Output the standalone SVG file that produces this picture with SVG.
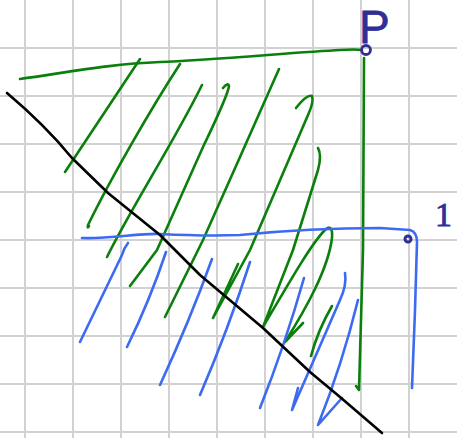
<svg xmlns="http://www.w3.org/2000/svg" width="457" height="438" viewBox="0 0 457 438">
<style>
.grid line{stroke:#d2d2d2;stroke-width:2}
.s{fill:none;stroke-width:2.6;stroke-linecap:round;stroke-linejoin:round}
.g{stroke:#0b7f0b}
.b{stroke:#3d6af2}
.k{stroke:#000}
.lbl{fill:#2f2f96;stroke:#2f2f96;stroke-width:0.8}
</style>
<rect width="457" height="438" fill="#fff"/>
<g id="grid" class="grid">
<line x1="25" y1="0" x2="25" y2="438"/><line x1="73" y1="0" x2="73" y2="438"/><line x1="121" y1="0" x2="121" y2="438"/><line x1="169" y1="0" x2="169" y2="438"/><line x1="217" y1="0" x2="217" y2="438"/><line x1="265" y1="0" x2="265" y2="438"/><line x1="313" y1="0" x2="313" y2="438"/><line x1="361" y1="0" x2="361" y2="438"/><line x1="409" y1="0" x2="409" y2="438"/>
<line x1="0" y1="48" x2="457" y2="48"/><line x1="0" y1="96" x2="457" y2="96"/><line x1="0" y1="144" x2="457" y2="144"/><line x1="0" y1="192" x2="457" y2="192"/><line x1="0" y1="240" x2="457" y2="240"/><line x1="0" y1="288" x2="457" y2="288"/><line x1="0" y1="336" x2="457" y2="336"/><line x1="0" y1="384" x2="457" y2="384"/><line x1="0" y1="432" x2="457" y2="432"/>
</g>
<g id="green-region" class="s g">
<path d="M20,79 C70,72 110,64 160,62 S300,52 340,50 Q355,49 362,50"/>
<path d="M140,59 Q105,112 65,172"/>
<path d="M180,64 C150,110 110,180 88,225 Q87,229 89,226"/>
<path d="M202,85 C175,140 130,210 107,257"/>
<path d="M223,88 Q228,82 229,86 Q228,95 203,147 L157,250 L130,286"/>
<path d="M279,69 L240,157 L203,240 L165,317"/>
<path d="M296,108 Q307,94 312,96 Q314,102 308,115 L250,250 L213,318 L238,264"/>
<path d="M318,148 Q322,155 318,170 L293,250 L263,327 C285,290 310,245 325,230 Q333,223 332,238 C328,270 305,310 285,342 L303,323"/>
<path d="M332,306 Q318,330 311,356"/>
<path d="M364,58 L363,250 L359,390 L356,386"/>
</g>
<g id="blue-region" class="s b">
<path d="M82,238 C110,239 140,233 160,234 S215,236 240,235 C290,230 340,228 380,228 L410,230 Q417,232 417,242 L415,310 L412,388"/>
<path d="M128,243 Q124,248 122,255 L80,342"/>
<path d="M166,252 Q150,300 127,347"/>
<path d="M212,259 Q190,320 160,385"/>
<path d="M250,262 Q228,330 200,395"/>
<path d="M304,278 Q285,345 260,408"/>
<path d="M345,273 Q347,285 340,300 L292,410 L298,388"/>
<path d="M358,300 Q342,365 318,425 L342,398"/>
</g>
<g id="line" class="s k">
<path d="M7,93 Q45,125 72,158 L108,193 L160,235 L200,275 L263,328 L310,372 L340,397 L382,433"/>
</g>
<g id="point-P">
<circle cx="366" cy="50" r="4.5" fill="none" stroke="#2f2f96" stroke-width="2.8"/>
<text class="lbl" x="359" y="43" font-size="46" font-family="'Liberation Sans', Arial, sans-serif">P</text>
</g>
<g id="point-1">
<circle cx="408" cy="239" r="3" fill="none" stroke="#2f2f96" stroke-width="3"/>
<text class="lbl" x="435" y="226" font-size="34" font-family="'Liberation Serif', 'Times New Roman', serif">1</text>
</g>
</svg>
